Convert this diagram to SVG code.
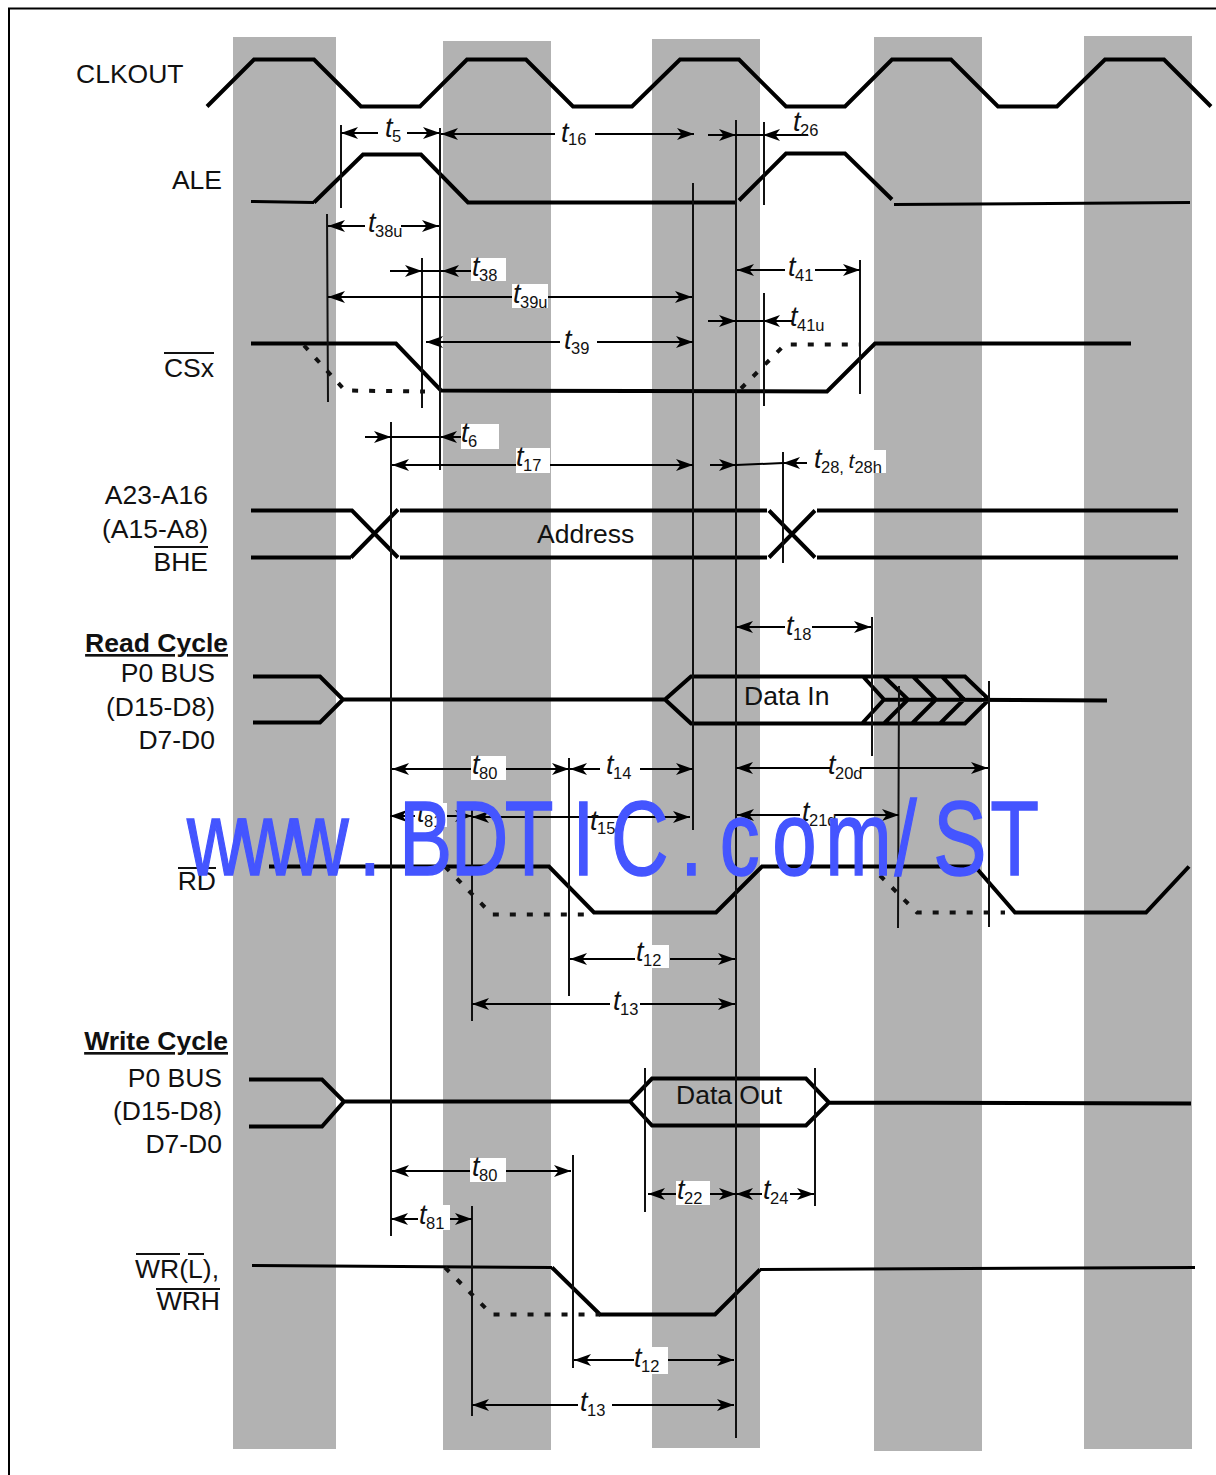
<svg xmlns="http://www.w3.org/2000/svg" width="1216" height="1475" viewBox="0 0 1216 1475">
<style>
text{font-family:"Liberation Sans",Arial,sans-serif;fill:#111}
.l{font-size:26.5px}.r{text-anchor:end}.h{font-weight:bold;text-decoration:underline}
.t{font-size:27px;font-style:italic}.s{font-size:16.500px;font-style:normal}
.sig{fill:none;stroke:#000;stroke-width:4;stroke-linejoin:miter}
.thin{stroke-width:3}
.dot{fill:none;stroke:#111;stroke-width:4;stroke-dasharray:6 11}
.v{fill:none;stroke:#111;stroke-width:2}
.d{fill:none;stroke:#000;stroke-width:2}
.a{marker-start:url(#ar)}.b{marker-end:url(#ar)}
.bg{fill:#fff}
.band{fill:#b2b2b2}
.wm{font-size:105px;fill:#4455ff;stroke:#4455ff;stroke-width:1.500}
</style>
<defs><marker id="ar" markerUnits="userSpaceOnUse" markerWidth="20" markerHeight="14" refX="17" refY="6.500" orient="auto-start-reverse"><path d="M0,0.500L17,6.500L0,12.500L4.500,6.500Z" fill="#000"/></marker></defs>
<rect width="1216" height="1475" fill="#fff"/>
<path d="M9,1475V8.500H1216" fill="none" stroke="#000" stroke-width="2"/>
<g id="bands">
<rect class="band" x="233" y="37" width="103" height="1412"/>
<rect class="band" x="443" y="41" width="108" height="1409"/>
<rect class="band" x="652" y="39" width="108" height="1409"/>
<rect class="band" x="874" y="37" width="108" height="1414"/>
<rect class="band" x="1084" y="36" width="108" height="1413"/>
</g>
<g id="signals" transform="translate(0,.5)">
<path id="clkout" class="sig" d="M207,106L254,59H314L361,106H420L467,59H526L573,106H632L680,59H739L786,106H845L892,59H951L998,106H1057L1105,59H1164L1211,106"/>
<g id="ale"><path class="sig thin" d="M251,201L314,202"/><path class="sig" d="M314,202L363,154H421L468,202H737"/><path class="sig" d="M739,200L786,153H845L892,199"/><path class="sig thin" d="M894,204L1190,202"/></g>
<g id="csx"><path class="sig" d="M251,343H396L441,390L827,391L875,343H1131"/><path class="dot" d="M304,345L345,390L425,391"/><path class="dot" d="M741,388L785,344H860"/></g>
<g id="addr"><path class="sig" d="M251,510H352L398,557M351,557H251M351,557L398,509M400,510H767M400,557H767M769,510L815,557M769,557L815,510M817,510H1178M817,557H1178"/></g>
<g id="read"><path class="sig" d="M253,676H320L343,699L320,722H253M343,699H665L691,676H965L989,699L965,723H691L665,699M863,676L884,699L862,723M884,676L908,699L884,723M913,676L936,699L912,723M942,676L964,699L940,723M884,699L1107,700"/></g>
<g id="rd"><path class="sig" d="M269,866H549L594,912H716L762,866H975L1015,912H1146L1189,866"/><path class="dot" d="M445,866L492,914H594"/><path class="dot" d="M880,875L917,912H1005"/></g>
<g id="write"><path class="sig" d="M249,1079H322L344,1101L322,1126H249M344,1101H630L652,1078H806L829,1102L806,1125H652L630,1101M829,1102L1191,1103"/></g>
<g id="wr"><path class="sig thin" d="M252,1265L552,1267"/><path class="sig" d="M552,1267L600,1314H715L760,1269"/><path class="sig thin" d="M760,1269L1195,1267"/><path class="dot" d="M445,1267L492,1314H600"/></g>
</g>
<g id="connectors">
<g id="verticals">
<path class="v" d="M341,125V208M440,128V470M327,214L328,402M422,258V408M693,183V830M736,120V1438M764,122V205M860,260V394M764,293V406M391,422V1236M783,452V563M872,617V756M989,681V927M899,686L898,928M569,758V996M472,807V1021M645,1068V1212M815,1068V1206M573,1155V1368M472,1206V1416"/>
</g>
<g id="dims">
<path class="d a" d="M341,133H378"/><path class="d b" d="M407,133H440"/>
<path class="d a" d="M441,134H555"/><path class="d b" d="M595,134H694"/>
<path class="d b" d="M708,135H736"/><path class="d" d="M736,135H764"/><path class="d a" d="M763,135H808"/>
<path class="d a" d="M328,226H365"/><path class="d b" d="M401,226H439"/>
<path class="d b" d="M390,271H422"/><path class="d" d="M422,271H442"/><path class="d a" d="M442,271H473"/>
<path class="d a b" d="M328,297H692"/>
<path class="d a" d="M426,342H560"/><path class="d b" d="M597,342H693"/>
<path class="d a" d="M737,270H785"/><path class="d b" d="M815,270H860"/>
<path class="d b" d="M708,321H736"/><path class="d" d="M736,321H763"/><path class="d a" d="M763,321H792"/>
<path class="d b" d="M365,437H391"/><path class="d" d="M391,437H440"/><path class="d a" d="M440,437H470"/>
<path class="d a b" d="M392,465H693"/>
<path class="d b" d="M710,465H736"/><path class="d" d="M736,465L783,463"/><path class="d a" d="M783,463H807"/>
<path class="d a" d="M736,627H785"/><path class="d b" d="M812,627H871"/>
<path class="d a" d="M736,768H830"/><path class="d b" d="M860,768H988"/>
<path class="d a" d="M737,815H800"/><path class="d b" d="M835,815H899"/>
<path class="d a b" d="M392,769H569"/>
<path class="d a" d="M570,769H600"/><path class="d b" d="M640,769H693"/>
<path class="d a b" d="M390,816H472"/>
<path class="d a b" d="M472,817H690"/>
<path class="d a" d="M570,959H635"/><path class="d b" d="M670,959H735"/>
<path class="d a" d="M472,1004H610"/><path class="d b" d="M640,1004H735"/>
<path class="d a b" d="M392,1171H571"/>
<path class="d a b" d="M391,1219H472"/>
<path class="d a b" d="M648,1194H736"/>
<path class="d a" d="M736,1194H762"/><path class="d b" d="M790,1194H814"/>
<path class="d a b" d="M574,1360H734"/>
<path class="d a" d="M472,1405H578"/><path class="d b" d="M612,1405H734"/>
</g>
</g>
<g id="label-backs">
<rect class="bg" x="471" y="258" width="35" height="23"/>
<rect class="bg" x="512" y="284" width="36" height="24"/>
<rect class="bg" x="461" y="424" width="38" height="25"/>
<rect class="bg" x="516" y="448" width="34" height="25"/>
<rect class="bg" x="812" y="450" width="74" height="23"/>
<rect class="bg" x="471" y="756" width="35" height="24"/>
<rect class="bg" x="415" y="803" width="32" height="24"/>
<rect class="bg" x="635" y="945" width="34" height="23"/>
<rect class="bg" x="470" y="1158" width="36" height="24"/>
<rect class="bg" x="418" y="1205" width="32" height="25"/>
<rect class="bg" x="676" y="1181" width="34" height="24"/>
<rect class="bg" x="634" y="1347" width="34" height="27"/>
</g>
<g id="timings">
<text class="t" x="385" y="137">t<tspan class="s" dx="-.5" dy="5">5</tspan></text>
<text class="t" x="561" y="142">t<tspan class="s" dx="-.5" dy="3">16</tspan></text>
<text class="t" x="793" y="131">t<tspan class="s" dx="-.5" dy="5">26</tspan></text>
<text class="t" x="368" y="232">t<tspan class="s" dx="-.5" dy="5">38u</tspan></text>
<text class="t" x="472" y="276">t<tspan class="s" dx="-.5" dy="5">38</tspan></text>
<text class="t" x="513" y="303">t<tspan class="s" dx="-.5" dy="5">39u</tspan></text>
<text class="t" x="564" y="349">t<tspan class="s" dx="-.5" dy="5">39</tspan></text>
<text class="t" x="788" y="276">t<tspan class="s" dx="-.5" dy="5">41</tspan></text>
<text class="t" x="790" y="326">t<tspan class="s" dx="-.5" dy="5">41u</tspan></text>
<text class="t" x="461" y="442">t<tspan class="s" dx="-.5" dy="5">6</tspan></text>
<text class="t" x="516" y="466">t<tspan class="s" dx="-.5" dy="5">17</tspan></text>
<text class="t" x="814" y="468">t<tspan class="s" dx="-.5" dy="5">28, </tspan><tspan font-size="21" dy="-5">t</tspan><tspan class="s" dy="5">28h</tspan></text>
<text class="t" x="786" y="635">t<tspan class="s" dx="-.5" dy="5">18</tspan></text>
<text class="t" x="472" y="774">t<tspan class="s" dx="-.5" dy="5">80</tspan></text>
<text class="t" x="606" y="774">t<tspan class="s" dx="-.5" dy="5">14</tspan></text>
<text class="t" x="828" y="774">t<tspan class="s" dx="-.5" dy="5">20d</tspan></text>
<text class="t" x="417" y="822">t<tspan class="s" dx="-.5" dy="5">81</tspan></text>
<text class="t" x="590" y="830">t<tspan class="s" dx="-.5" dy="4">15</tspan></text>
<text class="t" x="802" y="821">t<tspan class="s" dx="-.5" dy="5">21d</tspan></text>
<text class="t" x="636" y="961">t<tspan class="s" dx="-.5" dy="5">12</tspan></text>
<text class="t" x="613" y="1010">t<tspan class="s" dx="-.5" dy="5">13</tspan></text>
<text class="t" x="472" y="1176">t<tspan class="s" dx="-.5" dy="5">80</tspan></text>
<text class="t" x="419" y="1224">t<tspan class="s" dx="-.5" dy="5">81</tspan></text>
<text class="t" x="677" y="1199">t<tspan class="s" dx="-.5" dy="5">22</tspan></text>
<text class="t" x="763" y="1199">t<tspan class="s" dx="-.5" dy="5">24</tspan></text>
<text class="t" x="634" y="1367">t<tspan class="s" dx="-.5" dy="5">12</tspan></text>
<text class="t" x="580" y="1411">t<tspan class="s" dx="-.5" dy="5">13</tspan></text>
</g>
<g id="labels">
<text class="l" x="76" y="83">CLKOUT</text>
<text class="l r" x="222" y="189">ALE</text>
<text class="l r" x="214" y="377">CSx</text>
<text class="l r" x="208" y="504">A23-A16</text>
<text class="l r" x="208" y="538">(A15-A8)</text>
<text class="l r" x="208" y="571">BHE</text>
<text class="l r h" x="228" y="652">Read Cycle</text>
<text class="l r" x="215" y="682">P0 BUS</text>
<text class="l r" x="215" y="716">(D15-D8)</text>
<text class="l r" x="215" y="749">D7-D0</text>
<text class="l r" x="216" y="890">RD</text>
<text class="l r h" x="228" y="1050">Write Cycle</text>
<text class="l r" x="222" y="1087">P0 BUS</text>
<text class="l r" x="222" y="1120">(D15-D8)</text>
<text class="l r" x="222" y="1153">D7-D0</text>
<text class="l r" x="219" y="1278">WR(L),</text>
<text class="l r" x="220" y="1310">WRH</text>
<text class="l" x="537" y="543">Address</text>
<text class="l" x="744" y="705">Data In</text>
<text class="l" x="676" y="1104">Data Out</text>
<path class="v" d="M164,353H214M154,547H208M178,868H216M136,1254H180M188,1254H204M156,1289H220"/>
</g>
<text class="wm" transform="translate(0,875) scale(.76,1)" x="246 314.400 382.800 472 525 593 664 753 804 895 947 1016 1086 1177 1228 1303">www.BDTIC.com/ST</text>
</svg>
